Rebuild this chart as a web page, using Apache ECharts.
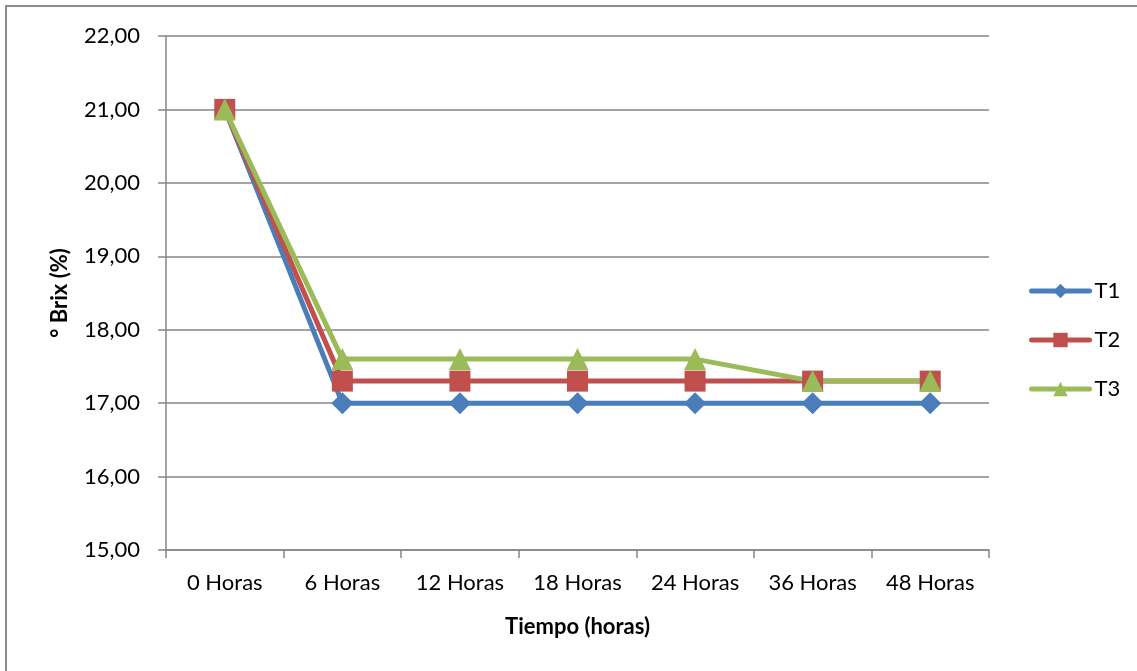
<!DOCTYPE html>
<html>
<head>
<meta charset="utf-8">
<title>° Brix (%) por tiempo</title>
<script src="https://cdn.jsdelivr.net/npm/echarts@6/dist/echarts.min.js"></script>
<style>
  html, body { margin: 0; padding: 0; background: #fff; }
  #chart { width: 1137px; height: 671px; }
</style>
</head>
<body>
<div id="chart"></div>
<script>
// Categories (sampling times)
const categories = ['0 Horas', '6 Horas', '12 Horas', '18 Horas', '24 Horas', '36 Horas', '48 Horas'];

// °Brix values per treatment
const t1 = [21.0, 17.0, 17.0, 17.0, 17.0, 17.0, 17.0];
const t2 = [21.0, 17.3, 17.3, 17.3, 17.3, 17.3, 17.3];
const t3 = [21.0, 17.6, 17.6, 17.6, 17.6, 17.3, 17.3];

const seriesNames = ['T1', 'T2', 'T3'];

// Value axis range
const yMin = 15;
const yMax = 22;
const yStep = 1;

const FONT = 'Lato';
const AXIS_GRAY = '#868686';

const chart = echarts.init(document.getElementById('chart'), null, { renderer: 'canvas' });

function makeSeries(name, data, color, symbol, size) {
  return {
    name: name,
    type: 'line',
    data: data,
    symbol: symbol,
    symbolSize: size,
    showSymbol: true,
    lineStyle: { color: color, width: 5 },
    itemStyle: { color: color },
    emphasis: { disabled: true },
    animation: false
  };
}

chart.setOption({
  backgroundColor: '#ffffff',
  textStyle: { fontFamily: FONT },
  graphic: [{
    type: 'rect',
    shape: { x: 6, y: 6, width: 1150, height: 700 },
    style: { fill: 'none', stroke: '#8c8c8c', lineWidth: 2 },
    silent: true,
    z: -1
  }],
  grid: { left: 166, right: 148, top: 36, bottom: 121, containLabel: false },
  legend: {
    orient: 'vertical',
    left: 1024,
    top: 275,
    itemWidth: 58,
    itemHeight: 18,
    itemGap: 27,
    lineStyle: { width: 5, cap: 'round' },
    textStyle: { fontFamily: FONT, fontSize: 22, color: '#000', padding: [0, 0, 0, 0] },
    data: seriesNames.map(n => ({ name: n }))
  },
  xAxis: {
    type: 'category',
    data: categories,
    boundaryGap: true,
    name: 'Tiempo (horas)',
    nameLocation: 'middle',
    nameGap: 66,
    nameTextStyle: { fontFamily: FONT, fontSize: 22, fontWeight: 'bold', color: '#000' },
    axisLine: { lineStyle: { color: AXIS_GRAY, width: 1.5 } },
    axisTick: { show: true, length: 8, lineStyle: { color: AXIS_GRAY, width: 1.5 } },
    axisLabel: { fontFamily: FONT, fontSize: 22, color: '#000', margin: 22, interval: 0 },
    splitLine: { show: false }
  },
  yAxis: {
    type: 'value',
    min: yMin,
    max: yMax,
    interval: yStep,
    name: '° Brix (%)',
    nameLocation: 'middle',
    nameRotate: 90,
    nameGap: 95,
    nameTextStyle: { fontFamily: FONT, fontSize: 22, fontWeight: 'bold', color: '#000' },
    axisLine: { show: true, lineStyle: { color: AXIS_GRAY, width: 1.5 } },
    axisTick: { show: true, length: 8, lineStyle: { color: AXIS_GRAY, width: 1.5 } },
    axisLabel: {
      fontFamily: FONT, fontSize: 22, color: '#000', margin: 26,
      formatter: v => v.toFixed(2).replace('.', ',')
    },
    splitLine: { show: true, lineStyle: { color: AXIS_GRAY, width: 1.5 } }
  },
  series: [
    makeSeries('T1', t1, '#4a7ebb', 'diamond', 22),
    makeSeries('T2', t2, '#c0504d', 'rect', 21),
    makeSeries('T3', t3, '#9bbb59', 'triangle', 22)
  ]
});
</script>
</body>
</html>
